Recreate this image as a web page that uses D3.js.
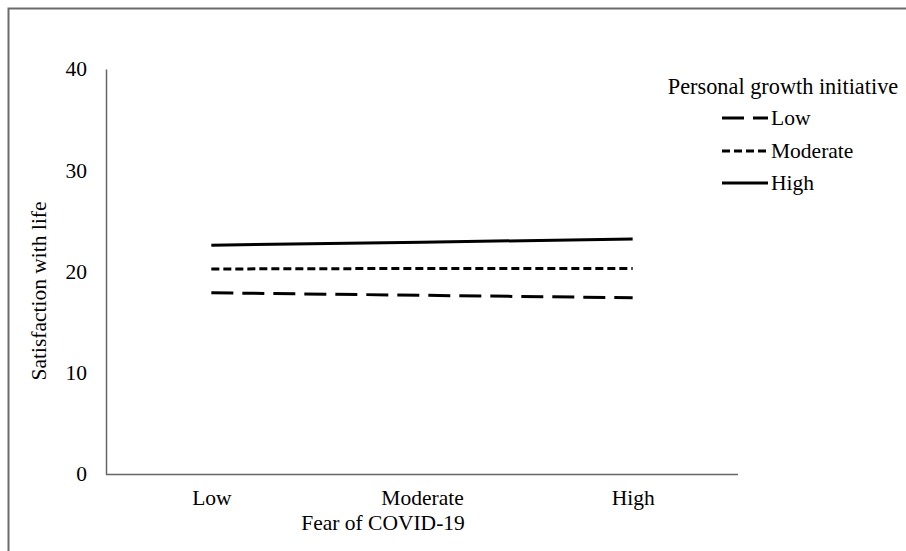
<!DOCTYPE html>
<html>
<head>
<meta charset="utf-8">
<script src="https://cdn.jsdelivr.net/npm/d3@7"></script>
<style>
html,body{margin:0;padding:0;background:#fff;}
svg{display:block;}
</style>
</head>
<body>
<svg id="chart" width="906" height="551"></svg>
<script>
const categories = ["Low", "Moderate", "High"];
const seriesNames = ["Low", "Moderate", "High"];
const lowValues = [17.9, 17.65, 17.4];
const moderateValues = [20.25, 20.3, 20.3];
const highValues = [22.6, 22.9, 23.2];
const yTicks = [0, 10, 20, 30, 40];
const xTitle = "Fear of COVID-19";
const yTitle = "Satisfaction with life";
const legendTitle = "Personal growth initiative";

(function () {
const FONT = "'Liberation Serif', 'Times New Roman', serif";
const series = [
  {name: seriesNames[0], values: lowValues, dash: "22,9", width: 3},
  {name: seriesNames[1], values: moderateValues, dash: "8,4", width: 3},
  {name: seriesNames[2], values: highValues, dash: null, width: 3}
];

const svg = d3.select("#chart");
const mLeft = 106, mRight = 738, mTop = 69, mBottom = 474;

// frame
svg.append("path").attr("d", "M8.5,551 V8.5 H906")
  .attr("fill", "none").attr("stroke", "#6b6b6b").attr("stroke-width", 2);

const x = d3.scalePoint().domain(categories).range([mLeft, mRight]).padding(0.5);
const y = d3.scaleLinear().domain([0, 40]).range([mBottom, mTop]);

const yAxis = svg.append("g").attr("transform", `translate(${mLeft},0)`)
  .call(d3.axisLeft(y).tickValues(yTicks).tickSize(0).tickPadding(19));
yAxis.select(".domain").attr("stroke", "#666").attr("stroke-width", 1.5);
yAxis.selectAll("text").style("font-size", "21.5px").style("font-family", FONT).attr("fill", "#000");

const xAxis = svg.append("g").attr("transform", `translate(0,${mBottom})`)
  .call(d3.axisBottom(x).tickSize(0).tickPadding(16));
xAxis.select(".domain").attr("stroke", "#666").attr("stroke-width", 1.5)
  .attr("d", `M${mLeft},0.5H${mRight}`);
xAxis.selectAll("text").style("font-size", "21.5px").style("font-family", FONT).attr("fill", "#000");

svg.append("text").attr("x", 383).attr("y", 530).attr("text-anchor", "middle")
  .style("font-family", FONT).style("font-size", "21.5px").text(xTitle);
svg.append("text").attr("transform", "translate(46,291) rotate(-90)").attr("text-anchor", "middle")
  .style("font-family", FONT).style("font-size", "21.5px").text(yTitle);

const line = d3.line().x((d, i) => x(categories[i])).y(d => y(d));
series.forEach(s => {
  svg.append("path").datum(s.values).attr("d", line)
    .attr("fill", "none").attr("stroke", "#000").attr("stroke-width", s.width)
    .attr("stroke-dasharray", s.dash);
});

// legend
svg.append("text").attr("x", 783).attr("y", 94).attr("text-anchor", "middle")
  .style("font-family", FONT).style("font-size", "22.3px").text(legendTitle);
const legY = [118, 151, 183];
series.forEach((s, i) => {
  svg.append("line").attr("x1", 722).attr("x2", 768).attr("y1", legY[i]).attr("y2", legY[i])
    .attr("stroke", "#000").attr("stroke-width", s.width).attr("stroke-dasharray", s.dash);
  svg.append("text").attr("x", 771).attr("y", legY[i] + 7)
    .style("font-family", FONT).style("font-size", "21.5px").text(s.name);
});
})();
</script>
</body>
</html>
